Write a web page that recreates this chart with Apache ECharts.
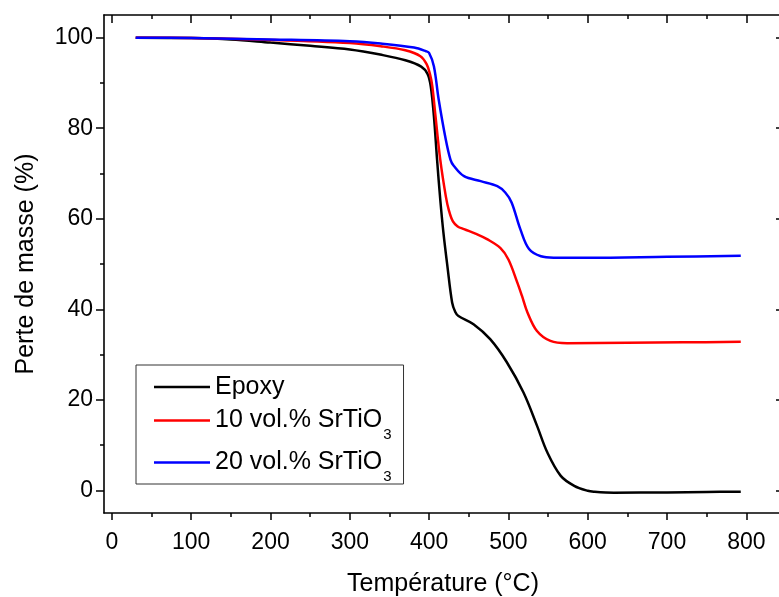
<!DOCTYPE html>
<html>
<head>
<meta charset="utf-8">
<script src="https://cdn.jsdelivr.net/npm/echarts@6/dist/echarts.min.js"></script>
<style>html,body{margin:0;padding:0;background:#fff}#c{width:779px;height:597px}</style>
</head>
<body>
<div id="c"></div>
<script>
// Data (temperature °C, mass %)
const epoxy = [[30,100],[100,99.9],[150,99.6],[200,98.9],[250,98.2],[300,97.4],[340,96.2],[370,95],[390,93.6],[398,92],[402,89.3],[406,82.7],[410,73.1],[414,64.3],[418,57],[423,49.6],[429,41.5],[433,39.4],[437,38.5],[456,36.7],[477,33.4],[498,28.3],[519,21.6],[536,14.3],[549,8.4],[566,3.2],[583,1.0],[600,-0.1],[608,-0.3],[633,-0.5],[700,-0.45],[750,-0.35],[793,-0.3]];
const sto10 = [[30,100],[100,99.9],[200,99.5],[300,98.8],[339,98.1],[370,97.2],[389,95.9],[397,94.1],[401,92],[404,89.3],[408,82.7],[414,73.1],[421,65],[425,61.8],[430,59.4],[436,58.3],[444,57.7],[460,56.6],[473,55.5],[490,53.5],[500,51],[511,46],[517,43],[524,39.3],[536,35.2],[553,33.0],[574,32.5],[650,32.6],[720,32.7],[793,32.8]];
const sto20 = [[30,100],[100,99.9],[200,99.6],[300,99.2],[339,98.7],[381,97.8],[396,97],[400,96.6],[406,93.7],[412,86.4],[421,77.5],[427,73],[431,71.7],[444,69.4],[465,68.3],[486,67.2],[496,65.8],[504,63.6],[515,57.7],[526,53.3],[541,51.7],[557,51.4],[600,51.4],[700,51.6],[793,51.8]];
const xMajor = [0,100,200,300,400,500,600,700,800];
const xMinor = [50,150,250,350,450,550,650,750];
const yMajor = [0,20,40,60,80,100];
const yMinor = [10,30,50,70,90];
const seriesNames = ['Epoxy','10 vol.% SrTiO3','20 vol.% SrTiO3'];

const FONT = 'Liberation Sans, Arial, sans-serif';
const XMIN = -10, XMAX = 845, YMIN = -5, YMAX = 105;
const lineCol = '#000';

function xAx(pos, vals, len, inside, labels, lineShow) {
  return {
    type: 'value', position: pos, min: XMIN, max: XMAX,
    axisLine: {show: lineShow, onZero: false, lineStyle: {color: lineCol, width: 1.6}},
    axisTick: {show: true, inside: inside, length: len, customValues: vals, lineStyle: {color: lineCol, width: 1.5}},
    axisLabel: {show: labels, customValues: vals, fontSize: 23, color: '#000', fontFamily: FONT, margin: 18},
    splitLine: {show: false}
  };
}
function yAx(pos, vals, len, inside, labels, lineShow) {
  return {
    type: 'value', position: pos, min: YMIN, max: YMAX,
    axisLine: {show: lineShow, onZero: false, lineStyle: {color: lineCol, width: 1.6}},
    axisTick: {show: true, inside: inside, length: len, customValues: vals, lineStyle: {color: lineCol, width: 1.5}},
    axisLabel: {show: labels, customValues: vals, fontSize: 23, color: '#000', fontFamily: FONT, margin: 11},
    splitLine: {show: false}
  };
}

const xAxes = [
  Object.assign(xAx('bottom', xMajor, 7, false, true, true), {name: 'Température (°C)', nameLocation: 'middle', nameGap: 59, nameTextStyle: {fontSize: 25, color: '#000', fontFamily: FONT}}),
  xAx('bottom', xMinor, 4, false, false, false),
  xAx('top', xMajor, 8, true, false, true),
  xAx('top', xMinor, 4, true, false, false)
];
const yAxes = [
  Object.assign(yAx('left', yMajor, 8, false, true, true), {name: 'Perte de masse (%)', nameLocation: 'middle', nameGap: 65, nameTextStyle: {fontSize: 25, color: '#000', fontFamily: FONT}}),
  yAx('left', yMinor, 4, false, false, false),
  yAx('right', yMajor, 6, true, false, true),
  yAx('right', yMinor, 3, true, false, false)
];

const colors = ['#000000', '#ff0000', '#0000ff'];
const datas = [epoxy, sto10, sto20];

const chart = echarts.init(document.getElementById('c'), null, {renderer: 'canvas'});
chart.setOption({
  animation: false,
  backgroundColor: '#fff',
  grid: {left: 104, top: 15, right: -3, bottom: 84, containLabel: false, outerBoundsMode: 'none'},
  xAxis: xAxes,
  yAxis: yAxes,
  legend: {
    orient: 'vertical', left: 136, top: 365,
    padding: [9, 12, 0, 18],
    borderColor: '#333', borderWidth: 1, backgroundColor: '#fff',
    icon: 'rect', itemWidth: 56, itemHeight: 2.5, itemGap: -1,
    textStyle: {
      fontSize: 25, color: '#000', fontFamily: FONT, lineHeight: 26,
      rich: {
        m: {fontSize: 25, fontFamily: FONT, color: '#000', lineHeight: 26},
        ms: {fontSize: 25, fontFamily: FONT, color: '#000', lineHeight: 41},
        sub: {fontSize: 15, fontFamily: FONT, color: '#000', lineHeight: 41, padding: [28, 0, 0, 1]}
      }
    },
    formatter: function (name) {
      if (name.endsWith('SrTiO3')) return '{ms|' + name.slice(0, -1) + '}{sub|3}';
      return '{m|' + name + '}';
    },
    data: seriesNames
  },
  series: datas.map((d, i) => ({
    name: seriesNames[i], type: 'line', data: d,
    xAxisIndex: 0, yAxisIndex: 0,
    symbol: 'none', showSymbol: false, smooth: 0.35,
    lineStyle: {color: colors[i], width: 2.5},
    itemStyle: {color: colors[i]},
    z: 3 + i
  }))
});
</script>
</body>
</html>
